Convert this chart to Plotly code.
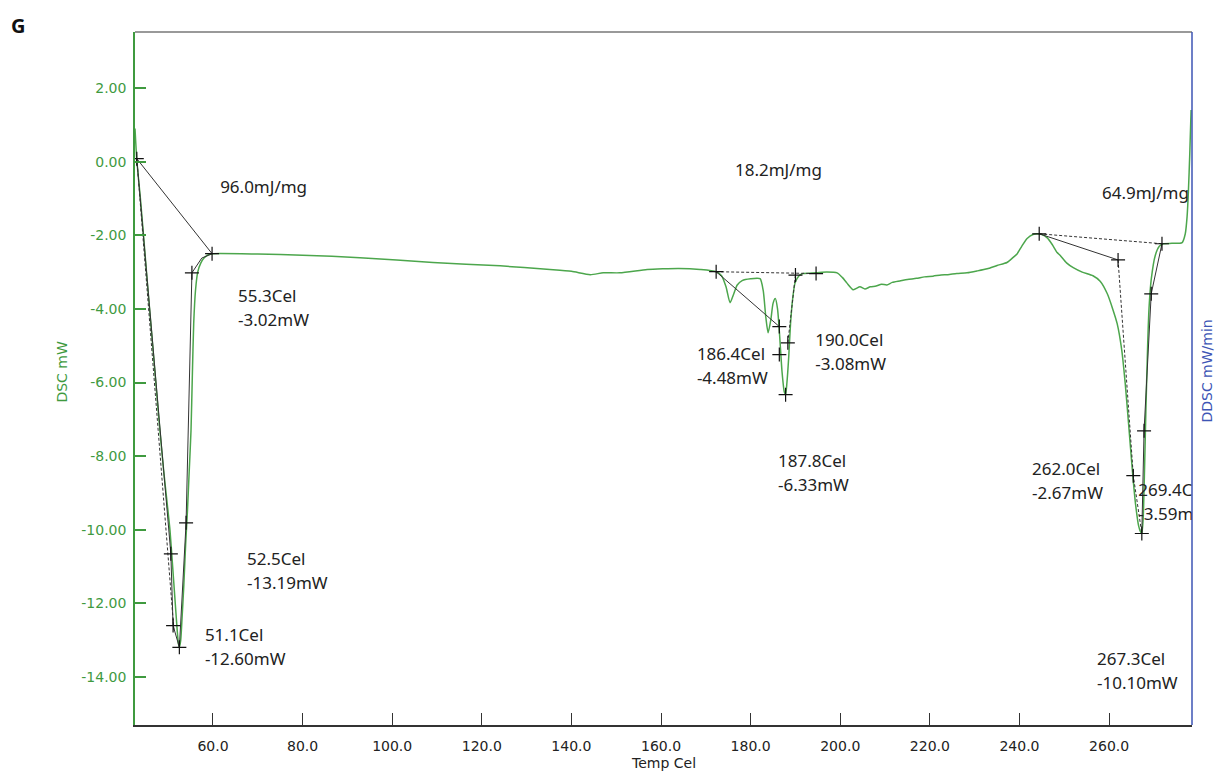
import plotly.graph_objects as go

# DSC trace: temperature (Cel) and heat flow (mW)
temp = [
    42.6, 43.0, 43.8, 44.5, 45.3, 46.2, 47.1, 48.0, 49.0, 49.8, 50.4, 51.0, 51.5,
    52.0, 52.3, 52.5, 52.8, 53.1, 53.5, 53.9, 54.3, 54.7, 55.1, 55.4, 55.7, 56.1,
    56.6, 57.3, 58.0, 59.0, 60.0, 70.0, 80.0, 92.8, 109.1, 124.1, 135.2, 140.0,
    144.2, 147.1, 150.8, 156.9, 160.4, 164.0, 168.7, 172.3, 173.5, 174.5, 175.4,
    176.2, 177.0, 178.1, 180.0, 182.1, 182.8, 183.4, 183.9, 184.5, 185.0, 185.5,
    186.0, 186.5, 187.0, 187.5, 187.8, 188.1, 188.5, 188.9, 189.4, 189.9, 190.8,
    191.7, 194.6, 197.0, 199.3, 200.5, 201.5, 202.9, 204.4, 205.5, 206.7, 208.0,
    209.2, 210.4, 211.6, 213.3, 215.0, 217.0, 218.8, 220.7, 222.5, 224.0, 226.0,
    228.3, 230.5, 232.8, 235.0, 237.2, 238.6, 239.5, 240.5, 241.7, 243.0, 243.9,
    245.0, 246.2, 247.3, 248.4, 249.1, 250.5, 252.0, 254.0, 256.4, 258.0, 259.6,
    260.8, 261.8, 262.8, 263.6, 264.4, 265.2, 265.9, 266.6, 267.0, 267.3, 267.6,
    267.9, 268.2, 268.6, 268.9, 269.4, 270.3, 271.2, 272.1, 274.0, 276.3, 277.0,
    277.4, 277.7, 278.0, 278.3,
]
dsc = [
    0.90, 0.05, -1.00, -2.00, -3.20, -4.50, -5.80, -7.10, -8.40, -9.30, -10.00,
    -11.00, -11.85, -12.70, -13.10, -13.19, -13.00, -12.40, -11.50, -10.40, -9.50,
    -8.40, -7.30, -5.80, -4.40, -3.50, -3.00, -2.75, -2.62, -2.53, -2.50, -2.51,
    -2.54, -2.61, -2.74, -2.83, -2.93, -2.98, -3.07, -3.02, -3.02, -2.93, -2.91,
    -2.90, -2.93, -2.99, -3.10, -3.40, -3.83, -3.60, -3.35, -3.23, -3.18, -3.18,
    -3.50, -4.24, -4.65, -4.30, -3.85, -3.72, -4.00, -4.78, -5.70, -6.25, -6.33,
    -6.00, -5.30, -4.40, -3.70, -3.30, -3.10, -3.04, -3.02, -3.00, -3.02, -3.15,
    -3.30, -3.48, -3.40, -3.46, -3.40, -3.38, -3.33, -3.35, -3.28, -3.24, -3.20,
    -3.17, -3.13, -3.11, -3.08, -3.07, -3.04, -3.02, -2.97, -2.91, -2.82, -2.74,
    -2.60, -2.50, -2.30, -2.09, -1.98, -1.96, -1.98, -2.07, -2.25, -2.47, -2.55,
    -2.75, -2.88, -3.00, -3.10, -3.25, -3.59, -4.00, -4.40, -5.10, -6.03, -7.20,
    -8.40, -9.30, -9.90, -10.05, -10.10, -9.70, -8.40, -6.80, -5.00, -4.00, -3.20,
    -2.55, -2.30, -2.23, -2.22, -2.20, -1.96, -1.50, -0.80, 0.20, 1.40,
]

# Analysis points for the three transitions: (temp, mW)
peak1_pts = [(43.0, 0.08), (59.8, -2.50), (50.6, -10.65), (51.1, -12.60),
             (52.5, -13.19), (54.0, -9.81), (55.3, -3.02)]
peak2_pts = [(172.3, -2.99), (194.6, -3.04), (186.4, -4.48), (186.4, -5.24),
             (187.8, -6.33), (188.3, -4.92), (190.0, -3.08)]
peak3_pts = [(244.4, -1.96), (262.0, -2.67), (271.8, -2.23), (269.4, -3.59),
             (267.8, -7.31), (265.4, -8.53), (267.3, -10.10)]

# Construction lines (solid / dashed) through the analysis points
solid_paths = [
    [(43.0, 0.08), (59.8, -2.50)],
    [(43.0, 0.08), (50.6, -10.65), (51.1, -12.60), (52.5, -13.19)],
    [(52.5, -13.19), (54.0, -9.81), (55.3, -3.02), (57.5, -2.62), (59.8, -2.50)],
    [(172.3, -2.99), (186.4, -4.48)],
    [(244.4, -1.96), (262.0, -2.67)],
    [(267.3, -10.10), (267.8, -7.31), (269.4, -3.59), (271.8, -2.23)],
]
dashed_paths = [
    [(43.0, 0.08), (51.3, -12.75)],
    [(172.3, -2.99), (194.6, -3.04)],
    [(190.0, -3.08), (188.3, -4.92)],
    [(244.4, -1.96), (271.8, -2.23)],
    [(262.0, -2.67), (265.4, -8.53), (267.3, -10.10)],
]

# Enthalpies (mJ/mg) and their label anchors
enthalpy = [96.0, 18.2, 64.9]
enthalpy_pos = [(61.6, -0.73), (176.5, -0.27), (258.4, -0.90)]

# Labelled points: value pair and the anchor of the label's first line
point_labels = [
    ((55.3, -3.02), (65.6, -3.70)),
    ((52.5, -13.19), (67.6, -10.84)),
    ((51.1, -12.60), (58.2, -12.91)),
    ((186.4, -4.48), (168.0, -5.27)),
    ((190.0, -3.08), (194.4, -4.89)),
    ((187.8, -6.33), (186.1, -8.18)),
    ((262.0, -2.67), (242.8, -8.40)),
    ((269.4, -3.59), (266.5, -8.97)),
    ((267.3, -10.10), (257.3, -13.56)),
]

x_ticks = [60, 80, 100, 120, 140, 160, 180, 200, 220, 240, 260]
y_ticks = [2, 0, -2, -4, -6, -8, -10, -12, -14]

GREEN = "#3f9a3f"
CURVE = "#4ca64c"
BLUE = "#3d55b5"
INK = "#222222"
LINE = "#333333"
LINE_GAP = 0.655  # vertical spacing between label lines, in mW

fig = go.Figure()

fig.add_trace(go.Scatter(x=temp, y=dsc, mode="lines",
                         line=dict(color=CURVE, width=1.5, shape="spline", smoothing=0.6),
                         hoverinfo="skip", showlegend=False))

for path in solid_paths:
    fig.add_trace(go.Scatter(x=[p[0] for p in path], y=[p[1] for p in path], mode="lines",
                             line=dict(color=LINE, width=1), showlegend=False, hoverinfo="skip"))
for path in dashed_paths:
    fig.add_trace(go.Scatter(x=[p[0] for p in path], y=[p[1] for p in path], mode="lines",
                             line=dict(color=LINE, width=1, dash="3px,2px"),
                             showlegend=False, hoverinfo="skip"))

pts = peak1_pts + peak2_pts + peak3_pts
fig.add_trace(go.Scatter(x=[p[0] for p in pts], y=[p[1] for p in pts], mode="markers",
                         marker=dict(symbol="cross-thin", size=10,
                                     line=dict(color="#111111", width=1.2)),
                         showlegend=False, hoverinfo="skip"))

# Text labels (clipped to the plotting area)
lx, ly, lt = [], [], []
for h, (x, y) in zip(enthalpy, enthalpy_pos):
    lx.append(x); ly.append(y); lt.append(f"{h:.1f}mJ/mg")
for (t, v), (x, y) in point_labels:
    lx += [x, x]
    ly += [y, y - LINE_GAP]
    lt += [f"{t:.1f}Cel", f"{v:.2f}mW"]
fig.add_trace(go.Scatter(x=lx, y=ly, text=lt, mode="text", textposition="middle right",
                         textfont=dict(family="Noto Sans", size=17, color=INK),
                         cliponaxis=True, showlegend=False, hoverinfo="skip"))

fig.update_layout(
    width=1216, height=772,
    margin=dict(l=135, r=24, t=32, b=47),
    paper_bgcolor="white", plot_bgcolor="white",
    xaxis=dict(range=[42.6, 278.5], tickvals=x_ticks,
               ticktext=[f"{v:.1f}" for v in x_ticks],
               ticks="inside", ticklen=12, tickcolor=LINE, tickwidth=1,
               showline=True, linecolor=LINE, linewidth=1.5, showgrid=False, zeroline=False,
               ticklabelstandoff=7, automargin=False,
               tickfont=dict(family="DejaVu Sans", size=14, color=INK)),
    yaxis=dict(range=[-15.3, 3.52], tickvals=y_ticks,
               ticktext=[f"{v:.2f}" for v in y_ticks],
               ticks="inside", ticklen=11, tickcolor=GREEN, tickwidth=1.5,
               showline=True, linecolor=GREEN, linewidth=1.5, showgrid=False, zeroline=False,
               ticklabelstandoff=4, automargin=False,
               tickfont=dict(family="DejaVu Sans", size=14, color=GREEN)),
    shapes=[
        dict(type="line", xref="paper", yref="paper", x0=0, x1=1, y0=1, y1=1,
             line=dict(color="#777777", width=1.5)),
        dict(type="line", xref="paper", yref="paper", x0=1, x1=1, y0=0, y1=1,
             line=dict(color=BLUE, width=1.5)),
    ],
    annotations=[
        dict(text="Temp Cel", xref="paper", yref="paper", x=0.5, y=0, yshift=-38,
             xanchor="center", yanchor="middle", showarrow=False,
             font=dict(family="DejaVu Sans", size=14, color=INK)),
        dict(text="DSC mW", xref="paper", yref="paper", x=0, y=0.51, xshift=-73,
             xanchor="center", yanchor="middle", textangle=-90, showarrow=False,
             font=dict(family="DejaVu Sans", size=14, color=GREEN)),
        dict(text="DDSC mW/min", xref="paper", yref="paper", x=1.0, y=0.51, xshift=15,
             xanchor="center", yanchor="middle", textangle=-90, showarrow=False,
             font=dict(family="DejaVu Sans", size=14, color=BLUE)),
        dict(text="<b>G</b>", xref="paper", yref="paper", x=0, y=1, xshift=-126, yshift=7,
             xanchor="left", yanchor="middle", showarrow=False,
             font=dict(family="Noto Sans", size=20, color="#111111")),
    ],
)

fig.write_html("out.html")
